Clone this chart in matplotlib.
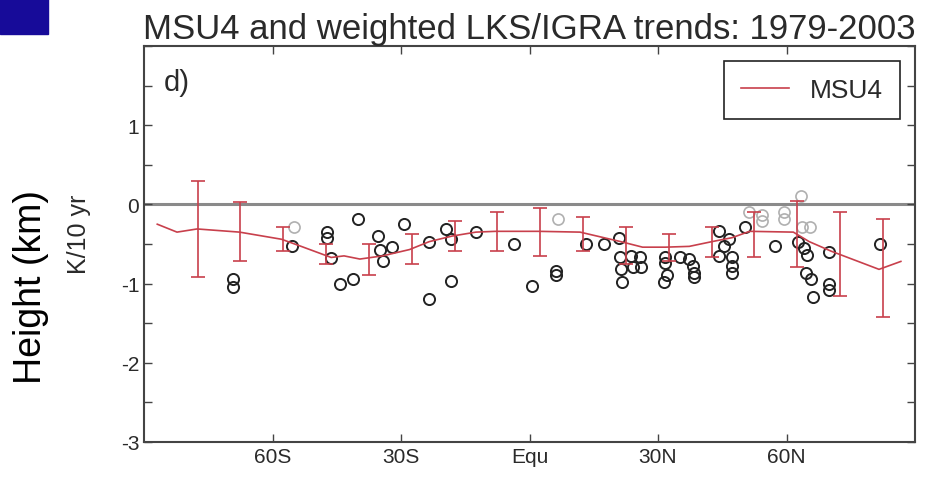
import matplotlib
matplotlib.use('Agg')
import matplotlib.pyplot as plt
from matplotlib.patches import Rectangle
import numpy as np

plt.rcParams['font.family'] = ['Liberation Sans', 'DejaVu Sans']
plt.rcParams['axes.unicode_minus'] = False

# MSU4 zonal trend curve (lat, K/10yr)
msu4_lat = [-86.9, -82.3, -77.6, -67.7, -57.9, -53.3, -46.3, -43.3, -39.6, -34.3, -28.0,
            -23.4, -18.1, -12.5, -7.9, 2.1, 11.8, 21.3, 26.4, 31.7, 37.3, 42.6, 47.3,
            51.4, 61.6, 65.3, 70.4, 81.6, 86.7]
msu4_val = [-0.25, -0.35, -0.31, -0.35, -0.44, -0.53, -0.67, -0.65, -0.69, -0.65, -0.57,
            -0.47, -0.40, -0.35, -0.34, -0.34, -0.35, -0.47, -0.54, -0.54, -0.53, -0.47, -0.42,
            -0.34, -0.35, -0.47, -0.59, -0.82, -0.72]

# error bars for the MSU4 curve
err_lat = [-77.5, -67.5, -57.5, -47.5, -37.5, -27.5, -17.5, -7.5, 2.5, 12.5, 22.5,
           32.5, 42.5, 52.5, 62.5, 72.5, 82.5]
err_mid = [-0.315, -0.345, -0.435, -0.625, -0.695, -0.565, -0.40, -0.34, -0.345, -0.375,
           -0.515, -0.55, -0.48, -0.38, -0.375, -0.625, -0.805]
err_half = [0.605, 0.375, 0.155, 0.125, 0.195, 0.185, 0.19, 0.25, 0.305, 0.215,
            0.235, 0.17, 0.19, 0.29, 0.415, 0.535, 0.615]

# weighted LKS/IGRA station trends
stn_lat = [-69.3, -69.3, -55.4, -47.3, -47.3, -46.3, -44.3, -41.2, -40.1, -35.4, -35.0,
           -34.3, -32.2, -29.2, -23.4, -23.4, -19.5, -18.3, -18.3, -12.5, -3.7, 0.5,
           6.3, 6.3, 13.2, 17.4, 20.9, 21.1, 23.6, 25.7, 21.3, 24.1, 26.0, 21.5,
           31.7, 31.7, 32.0, 31.3, 35.2, 37.3, 38.2, 38.5, 38.5, 44.3, 46.6, 45.4,
           44.3, 47.3, 47.3, 47.3, 50.3, 57.2, 62.6, 64.2, 64.9, 64.6, 65.8, 66.3,
           70.0, 70.0, 70.0, 81.8]
stn_val = [-0.94, -1.04, -0.53, -0.35, -0.43, -0.68, -1.01, -0.94, -0.19, -0.40, -0.57,
           -0.72, -0.54, -0.25, -1.19, -0.48, -0.31, -0.44, -0.97, -0.35, -0.50, -1.03,
           -0.84, -0.89, -0.50, -0.50, -0.42, -0.67, -0.65, -0.67, -0.82, -0.79, -0.79, -0.98,
           -0.67, -0.74, -0.89, -0.98, -0.67, -0.69, -0.78, -0.86, -0.92, -0.34, -0.44, -0.53,
           -0.65, -0.67, -0.78, -0.86, -0.29, -0.53, -0.48, -0.55, -0.64, -0.87, -0.94, -1.17,
           -0.60, -1.01, -1.08, -0.50]

# faint (gray) stations
gray_lat = [-54.9, 6.7, 51.2, 54.2, 54.2, 59.3, 59.3, 63.3, 63.7, 65.6]
gray_val = [-0.29, -0.19, -0.10, -0.13, -0.21, -0.09, -0.19, 0.10, -0.29, -0.29]

xticks = [-60, -30, 0, 30, 60]
xticklabels = ['60S', '30S', 'Equ', '30N', '60N']

red = '#c8404c'
txt = '#2a2a2a'

fig = plt.figure(figsize=(9.26, 4.81), dpi=100)
ax = fig.add_axes([144/926, 38/481, 771/926, 396/481])

ax.axhline(0, color='#8a8a8a', lw=2.2, zorder=1)

ax.plot(gray_lat, gray_val, 'o', mfc='none', mec='#b0b0b0', ms=8, mew=1.2, zorder=2)
ax.plot(stn_lat, stn_val, 'o', mfc='none', mec='#222222', ms=8, mew=1.4, zorder=3)

ax.plot(msu4_lat, msu4_val, color=red, lw=1.2, label='MSU4', zorder=4)
ax.errorbar(err_lat, err_mid, yerr=err_half, fmt='none', ecolor=red, elinewidth=1.2,
            capsize=5, capthick=1.2, zorder=4)

ax.set_xlim(-90, 90)
ax.set_ylim(-3, 2)
ax.set_xticks(xticks)
ax.set_xticklabels(xticklabels)
ax.set_yticks([-3, -2, -1, 0, 1])
ax.set_yticks(np.arange(-3, 2.01, 0.5), minor=True)
ax.tick_params(which='both', direction='in', top=True, right=True, length=6,
               width=1.0, color='#444444', labelsize=15, labelcolor=txt)
for s in ax.spines.values():
    s.set_color('#444444')
    s.set_linewidth(1.5)

ax.set_title('MSU4 and weighted LKS/IGRA trends: 1979-2003', fontsize=25, color=txt, pad=6)
ax.text(0.025, 0.945, 'd)', transform=ax.transAxes, fontsize=21, color=txt, va='top')

leg = ax.legend(loc='upper right', bbox_to_anchor=(0.9805, 0.962), fontsize=19,
                fancybox=False, edgecolor='#222222', framealpha=1, borderpad=0.65,
                handlelength=1.8, handletextpad=0.8, borderaxespad=0)
leg.get_frame().set_linewidth(1.2)
for t in leg.get_texts():
    t.set_color(txt)

fig.text(79/926, 0.513, 'K/10 yr', rotation=90, fontsize=18, color=txt,
         ha='center', va='center')
fig.text(31/926, 0.403, 'Height (km)', rotation=90, fontsize=27, color='black',
         ha='center', va='center')

fig.patches.append(Rectangle((0, 1 - 35/481), 48/926, 35/481, transform=fig.transFigure,
                             color='#170b99', zorder=0))

fig.savefig('out.png', dpi=100)
